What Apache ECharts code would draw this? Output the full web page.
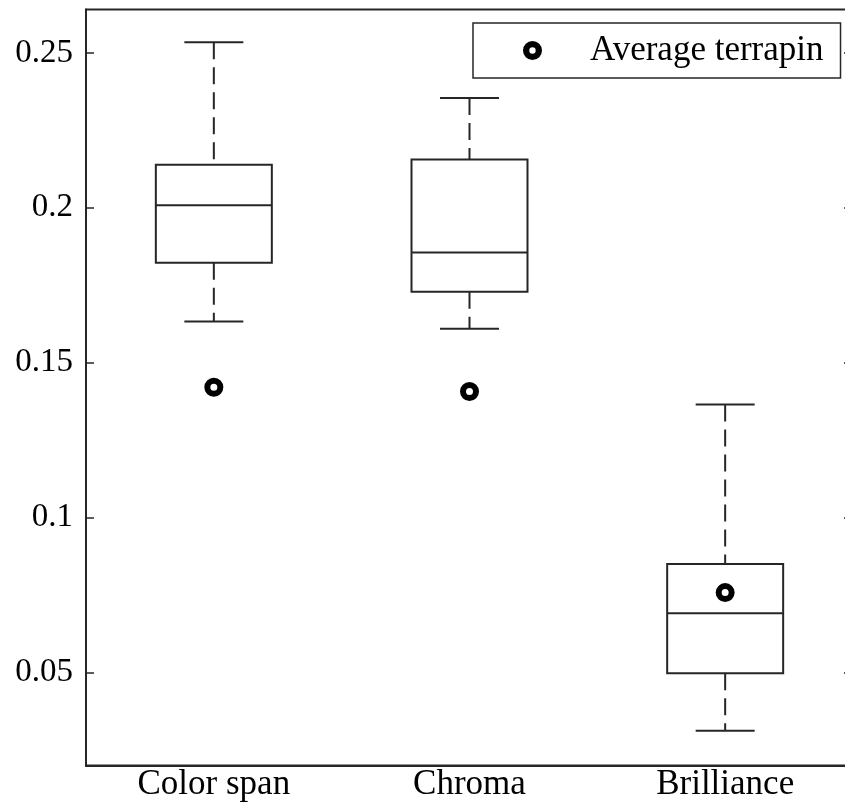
<!DOCTYPE html>
<html>
<head>
<meta charset="utf-8">
<script src="https://cdn.jsdelivr.net/npm/echarts@6/dist/echarts.min.js"></script>
<style>
  html, body { margin: 0; padding: 0; background: #fff; }
  #chart { width: 845px; height: 803px; }
</style>
</head>
<body>
<div id="chart"></div>
<script>
// Colour metrics: box statistics per category and the average terrapin value
const categories = ['Color span', 'Chroma', 'Brilliance'];
const whiskerLow = [0.1633, 0.1610, 0.0312];
const quartile1 = [0.1823, 0.1729, 0.0498];
const medians = [0.2008, 0.1856, 0.0691];
const quartile3 = [0.2139, 0.2156, 0.0850];
const whiskerHigh = [0.2534, 0.2354, 0.1365];
const terrapinMean = [0.1421, 0.1407, 0.0758];
const yTicks = [0.05, 0.1, 0.15, 0.2, 0.25];

const FONT = "'Liberation Serif', 'Times New Roman', serif";
const INK = '#262626';
// thick ring used as the legend marker (outer circle clockwise, inner hole counter-clockwise)
const RING_ICON = 'path://M0,-9.5A9.5,9.5 0 1,1 0,9.5A9.5,9.5 0 1,1 0,-9.5ZM0,-3.2A3.2,3.2 0 1,0 0,3.2A3.2,3.2 0 1,0 0,-3.2Z';

const boxData = categories.map((c, i) => [i, whiskerLow[i], quartile1[i], medians[i], quartile3[i], whiskerHigh[i]]);
const meanData = categories.map((c, i) => [i, terrapinMean[i]]);

function renderBox(params, api) {
  const idx = api.value(0);
  const band = api.size([1, 0])[0];
  const halfBox = band * 0.4537 / 2;
  const halfCap = band * 0.2307 / 2;
  const pLow = api.coord([idx, api.value(1)]);
  const pQ1 = api.coord([idx, api.value(2)]);
  const pMed = api.coord([idx, api.value(3)]);
  const pQ3 = api.coord([idx, api.value(4)]);
  const pHigh = api.coord([idx, api.value(5)]);
  const x = pMed[0];
  const solid = { stroke: INK, lineWidth: 2, fill: null };
  const dashed = { stroke: INK, lineWidth: 2, lineDash: [17, 8], fill: null };
  return {
    type: 'group',
    children: [
      { type: 'rect', shape: { x: x - halfBox, y: pQ3[1], width: halfBox * 2, height: pQ1[1] - pQ3[1] }, style: solid },
      { type: 'line', shape: { x1: x - halfBox, y1: pMed[1], x2: x + halfBox, y2: pMed[1] }, style: solid },
      { type: 'line', shape: { x1: x, y1: pHigh[1], x2: x, y2: pQ3[1] }, style: dashed },
      { type: 'line', shape: { x1: x, y1: pQ1[1], x2: x, y2: pLow[1] }, style: dashed },
      { type: 'line', shape: { x1: x - halfCap, y1: pHigh[1], x2: x + halfCap, y2: pHigh[1] }, style: solid },
      { type: 'line', shape: { x1: x - halfCap, y1: pLow[1], x2: x + halfCap, y2: pLow[1] }, style: solid }
    ]
  };
}

const chart = echarts.init(document.getElementById('chart'), null, { renderer: 'canvas' });
chart.setOption({
  animation: false,
  backgroundColor: '#fff',
  textStyle: { fontFamily: FONT },
  grid: {
    left: 86, width: 767, top: 9.5, height: 756,
    outerBoundsMode: 'none', containLabel: false,
    show: true, borderColor: INK, borderWidth: 2, backgroundColor: 'transparent'
  },
  legend: {
    left: 473, top: 23,
    data: [{ name: 'Average terrapin', icon: RING_ICON, itemStyle: { color: '#000', borderWidth: 0 } }],
    padding: [10, 17, 10, 50],
    borderColor: INK, borderWidth: 1.5,
    backgroundColor: '#fff',
    itemWidth: 19, itemHeight: 19,
    textStyle: { fontFamily: FONT, fontSize: 35, color: '#000', padding: [0, 0, 0, 43] }
  },
  xAxis: {
    type: 'category',
    data: categories,
    boundaryGap: true,
    axisLine: { show: true, lineStyle: { color: INK, width: 2 } },
    axisTick: { show: false },
    axisLabel: { color: '#000', fontFamily: FONT, fontSize: 35, margin: 2 },
    splitLine: { show: false }
  },
  yAxis: [
    {
      type: 'value', min: 0.02, max: 0.264,
      axisLine: { show: true, lineStyle: { color: INK, width: 2 } },
      axisTick: { show: true, inside: true, length: 8, customValues: yTicks, lineStyle: { color: INK, width: 1.5 } },
      axisLabel: { color: '#000', fontFamily: FONT, fontSize: 33, margin: 13, customValues: yTicks,
        formatter: v => String(+v.toFixed(2)) },
      splitLine: { show: false }
    },
    {
      type: 'value', min: 0.02, max: 0.264, position: 'right',
      axisLine: { show: true, lineStyle: { color: INK, width: 2 } },
      axisTick: { show: true, inside: true, length: 9, customValues: yTicks, lineStyle: { color: INK, width: 1.5 } },
      axisLabel: { show: false },
      splitLine: { show: false }
    }
  ],
  series: [
    {
      name: 'Colour metrics',
      type: 'custom',
      renderItem: renderBox,
      encode: { x: 0, y: [1, 2, 3, 4, 5] },
      data: boxData,
      z: 2
    },
    {
      name: 'Average terrapin',
      type: 'scatter',
      data: meanData,
      symbol: 'circle',
      symbolSize: 13,
      itemStyle: { color: '#fff', borderColor: '#000', borderWidth: 6, opacity: 1 },
      z: 3
    }
  ]
});
</script>
</body>
</html>
